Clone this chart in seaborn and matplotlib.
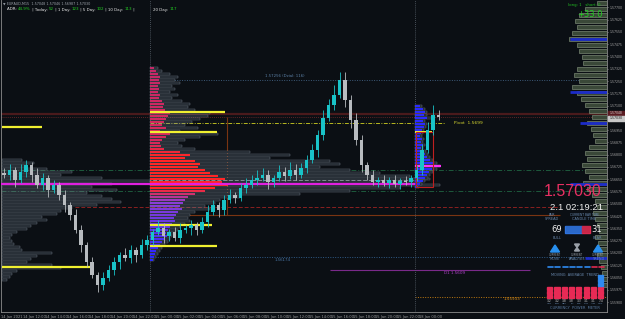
import numpy as np
import matplotlib
matplotlib.use("Agg")
import matplotlib.pyplot as plt
import seaborn as sns
from matplotlib.colors import LinearSegmentedColormap
from matplotlib.patches import Rectangle, Polygon

# ---------------- data ----------------
symbol_line = "\u25bc EURAUD,M15  1.57048 1.57046 1.56987 1.57030"
close = [1.56676, 1.56706, 1.56645, 1.56694, 1.56737, 1.56676, 1.56615, 1.56657, 1.56584, 1.56615,
         1.56553, 1.56492, 1.56431, 1.56340, 1.56248, 1.56144, 1.56065, 1.56004, 1.56046, 1.56095,
         1.56144, 1.56187, 1.56169, 1.56217, 1.56187, 1.56248, 1.56279, 1.56327, 1.56352, 1.56303,
         1.56327, 1.56291, 1.56340, 1.56352, 1.56370, 1.56340, 1.56388, 1.56450, 1.56492, 1.56462,
         1.56523, 1.56553, 1.56535, 1.56596, 1.56615, 1.56645, 1.56657, 1.56676, 1.56633, 1.56657,
         1.56694, 1.56670, 1.56706, 1.56676, 1.56718, 1.56767, 1.56828, 1.56920, 1.57024, 1.57103,
         1.57164, 1.57256, 1.57134, 1.57012, 1.56889, 1.56737, 1.56676, 1.56633, 1.56645, 1.56627,
         1.56645, 1.56621, 1.56639, 1.56633, 1.56657, 1.56706, 1.56828, 1.56951, 1.57042, 1.57030]
open_first = 1.56690
wick_up_pips = [3, 4, 2, 5, 3, 2, 4, 3, 2, 3,
                2, 3, 2, 4, 3, 2, 3, 2, 4, 3,
                3, 2, 4, 3, 2, 4, 3, 2, 5, 3,
                2, 3, 4, 2, 3, 2, 3, 4, 3, 2,
                3, 4, 2, 3, 4, 3, 5, 4, 3, 2,
                4, 3, 5, 4, 3, 3, 4, 3, 5, 4,
                6, 5, 5, 3, 4, 3, 2, 3, 2, 3,
                2, 3, 2, 3, 2, 3, 4, 5, 6, 3]
wick_dn_pips = [2, 3, 4, 2, 3, 4, 2, 3, 4, 2,
                3, 4, 3, 2, 4, 3, 2, 4, 3, 2,
                3, 4, 2, 3, 4, 2, 3, 3, 2, 4,
                3, 2, 3, 2, 4, 3, 2, 3, 2, 4,
                3, 2, 3, 2, 3, 2, 3, 2, 4, 3,
                2, 3, 2, 3, 2, 3, 2, 4, 3, 2,
                3, 2, 4, 5, 3, 4, 3, 2, 3, 2,
                3, 2, 3, 2, 3, 2, 3, 2, 3, 2]

time_labels = ["14 Jan 2021", "14 Jan 12:00", "14 Jan 14:00", "14 Jan 16:00", "14 Jan 18:00",
               "14 Jan 20:00", "14 Jan 22:00", "15 Jan 00:00", "15 Jan 02:00", "15 Jan 04:00",
               "15 Jan 06:00", "15 Jan 08:00", "15 Jan 10:00", "15 Jan 12:00", "15 Jan 14:00",
               "15 Jan 16:00", "15 Jan 18:00", "15 Jan 20:00", "15 Jan 22:00", "18 Jan 00:00"]
time_label_hours = [0, 2, 4, 6, 8, 10, 12, 14, 16, 18, 20, 22, 24, 26, 28, 30, 32, 34, 36, 38]

price_ticks = [1.57700, 1.57625, 1.57550, 1.57475, 1.57400, 1.57325, 1.57250, 1.57175, 1.57100,
               1.56950, 1.56875, 1.56800, 1.56725, 1.56650, 1.56575, 1.56500, 1.56425,
               1.56350, 1.56275, 1.56200, 1.56125, 1.56050, 1.55975, 1.55900]
current_price = 1.57030
prev_price = 1.57048

# session volume profiles (bar lengths, top bin first)
vp15_top = 1.57329
vp15_total = [8, 12, 20, 28, 25, 30, 22, 25, 20, 28, 22,
              32, 40, 38, 45, 60, 58, 50, 42, 35, 48, 30, 68, 50, 35, 28, 32, 45,
              100, 140, 120, 180, 190, 170, 200, 230, 260, 280, 270, 290, 250, 200, 150, 90,
              70, 65, 55, 60, 45, 40, 38, 40, 35, 30, 28, 25, 22, 20, 18, 15, 12, 10, 8, 6, 4]
vp15_value = [4, 6, 8, 10, 9, 10, 8, 9, 8, 10, 9,
              12, 14, 13, 15, 20, 18, 16, 14, 12, 16, 10, 20, 16, 12, 10, 11, 14,
              30, 40, 35, 45, 50, 48, 55, 60, 68, 75, 72, 78, 65, 55, 45, 38,
              35, 33, 30, 32, 28, 26, 24, 25, 22, 20, 18, 16, 17, 14, 12, 10, 8, 6, 5, 4, 3]
vp14_top = 1.56767
vp14_total = [20, 32, 25, 45, 70, 60, 100, 148, 110, 90, 115, 85, 100, 110, 120, 95, 70, 60, 55, 40,
              45, 35, 30, 25, 15, 10, 8, 10, 12, 18, 20, 50, 35, 30, 25, 50, 60, 15, 10, 8, 5]
vp18_top = 1.57097
vp18_value = [5, 8, 10, 9, 12, 8, 10, 9, 7, 6, 5, 7, 6, 8, 6, 9, 10, 12, 15, 18, 20, 17, 14, 12, 10, 8, 5, 3]
vp18_total = [7, 10, 12, 12, 18, 10, 12, 11, 9, 8, 7, 9, 8, 10, 8, 11, 13, 15, 18, 22, 25, 22, 18, 15, 13, 10, 7, 4]
vpr_top = 1.57727
vpr_total = [10, 22, 28, 32, 30, 35, 38, 30, 28, 25, 24, 30, 33, 28, 35, 30, 26, 22, 18, 15,
             20, 16, 14, 12, 18, 22, 20, 25, 22, 18, 24, 20, 15, 12, 10, 14, 12, 10, 8, 12,
             9, 7, 10, 8, 6, 5, 7, 5]
vpr_blue_levels = [1.57507, 1.57183, 1.56993, 1.56621, 1.56168]
vpr_blue_len = [37, 37, 27, 37, 22]

# key levels
lvl_dzial = 1.57256
lvl_pivot = 1.56993
lvl_green = [1.56706, 1.56578]
lvl_gray = 1.56645
lvl_poc = 1.56621
lvl_red = 1.56480
lvl_brown = 1.56431
lvl_blue = 1.56174
lvl_d1 = 1.56095
lvl_orange = 1.55933
va15_levels = [1.57061, 1.56938, 1.56370, 1.56242]
va15_len = [75, 67, 62, 67]
va14_levels = [1.56969, 1.56114]
va14_len = [40, 88]
box18 = (1.56938, 1.56602)
poc18 = 1.56731

adr_parts = [("ADR: ", 0), ("44.9%", 1), (" | Today: ", 0), ("52", 1), (" | 1 Day: ", 0), ("123", 1),
             (" | 5 Day: ", 0), ("102", 1), (" | 10 Day: ", 0), ("113", 1), (" |", 0)]
adr20_parts = [("20 Day: ", 0), ("117", 1)]
meter_values = ["3.2", "3.2", "3.8", "3.8", "3.3", "3.1", "3.1", "7.4"]
meter_ccy = ["USD", "EUR", "GBP", "JPY", "CHF", "CAD", "AUD", "NZD"]
meter_red = [3, 3, 3, 3, 3, 3, 3, 3]
meter_blue = [0, 0, 0, 0, 0, 0, 0, 3]
bull, bear = 69, 31

# ---------------- style ----------------
BG = "#0b0f14"
sns.set_theme(style="dark", rc={"axes.facecolor": BG, "figure.facecolor": BG,
                                "savefig.facecolor": BG})
plt.rcParams["font.family"] = ["DejaVu Sans"]

W, HT = 625, 319
fig = plt.figure(figsize=(W / 100, HT / 100), dpi=100)
ax = fig.add_axes([1.25 / W, 1 - 312 / HT, 605.75 / W, 312 / HT])
XMAX = 605.75 / 11
ax.set_xlim(0, XMAX)
ax.set_ylim(1.55839, 1.57745)
ax.grid(False)
ax.spines["top"].set_visible(False)
for s in ["left", "bottom", "right"]:
    ax.spines[s].set_color("#8c8c8c")
    ax.spines[s].set_linewidth(0.6)


def H(px):
    return (px - 1.25) / 11.0


STEP3 = 3 * 0.0000611

# ---------------- volume profiles ----------------
def gray_profile(x0, top, step, vals, z=3, hf=0.6):
    lv = top - step * np.arange(len(vals))
    ax.barh(lv, np.array(vals) / 11.0, left=x0, height=step * hf, facecolor="#151b22",
            edgecolor="#76828f", linewidth=0.3, zorder=z)
    return lv

# 14 Jan profile
gray_profile(H(1.5), vp14_top, STEP3, vp14_total)
# 15 Jan profile
lv15 = gray_profile(H(150), vp15_top, STEP3, vp15_total)
cmap = LinearSegmentedColormap.from_list("vp", [(0, "#c42868"), (0.40, "#d8285a"), (0.46, "#ff2626"),
                                                (0.63, "#ff2626"), (0.70, "#8c3ed6"), (1.0, "#2626ff")])
cols15 = [cmap(k / (len(vp15_value) - 1)) for k in range(len(vp15_value))]
ax.barh(lv15, np.array(vp15_value) / 11.0, left=H(150), height=STEP3 * 0.9, color=cols15,
        linewidth=0, zorder=4)
# 18 Jan profile
lv18 = gray_profile(H(415), vp18_top, STEP3, vp18_total)
ax.barh(lv18, np.array(vp18_value) / 11.0, left=H(415), height=STEP3 * 0.9, color="#2a2aff",
        linewidth=0, zorder=4)
# right-side range profile
lvr = vpr_top - 6 * 0.0000611 * np.arange(len(vpr_total))
ax.barh(lvr, np.array(vpr_total) / 11.0, left=XMAX - np.array(vpr_total) / 11.0,
        height=6 * 0.0000611 * 0.75, facecolor="#3a4838", edgecolor="#8d9c84", linewidth=0.4, zorder=3)
for lv, ln in zip(vpr_blue_levels, vpr_blue_len):
    ax.hlines(lv, XMAX - ln / 11.0, XMAX, color="#1c2cc8", lw=2.0, zorder=4)

# value-area / poc markers
for lv, ln in zip(va15_levels, va15_len):
    ax.hlines(lv, H(150), H(150 + ln), color="#f0f030", lw=1.6, zorder=5)
for lv, ln in zip(va14_levels, va14_len):
    ax.hlines(lv, H(1.5), H(1.5 + ln), color="#f0f030", lw=1.6, zorder=5)
ax.hlines(box18[0], H(415), H(432), color="#f0f030", lw=1.4, zorder=5)
ax.hlines(poc18, H(415), H(441), color="#ff30ff", lw=1.6, zorder=5)
ax.add_patch(Rectangle((H(416), box18[1]), H(433) - H(416), box18[0] - box18[1], fill=False,
                       edgecolor="#c02020", lw=0.8, zorder=5))

# ---------------- key levels ----------------
ax.hlines(lvl_dzial, H(150), XMAX, color="#3d5a78", lw=0.7, ls=(0, (1, 1.5)), zorder=2)
ax.text(H(285), lvl_dzial + 0.00012, "1.57256 (Dzial: 116)", color="#5b80a6", fontsize=2.8,
        ha="center", va="bottom", zorder=8)
ax.hlines(prev_price, 0, XMAX, color="#4a1a1c", lw=1.6, zorder=2)
ax.hlines(current_price, 0, XMAX, color="#7a2a2a", lw=0.6, ls=(0, (1, 1.5)), zorder=2)
ax.hlines(lvl_pivot, H(150), H(445), color="#b8b820", lw=0.7, ls=(0, (4, 1.5, 1, 1.5)), zorder=2)
ax.text(H(454), lvl_pivot, "Pivot  1.5699", color="#d8d830", fontsize=3.2, va="center", zorder=8)
for lv in lvl_green:
    ax.hlines(lv, 0, XMAX, color="#1d5a3c", lw=0.7, ls=(0, (5, 2, 1, 2)), zorder=2)
ax.hlines(lvl_gray, 0, H(415), color="#8a939c", lw=0.7, ls=(0, (4, 2)), zorder=2)
ax.hlines(lvl_poc, 0, H(415), color="#e020e0", lw=1.6, zorder=5)
ax.hlines(lvl_red, H(75), H(560), color="#8a2020", lw=0.7, ls=(0, (4, 2)), zorder=2)
ax.hlines(lvl_brown, H(150), H(560), color="#7a3412", lw=0.8, zorder=2)
ax.vlines(H(227), lvl_brown, current_price, color="#7a3412", lw=0.8, zorder=2)
ax.hlines(lvl_blue, H(150), XMAX, color="#2f5a86", lw=0.7, ls=(0, (1, 1.5)), zorder=2)
ax.text(H(283), lvl_blue - 0.00008, "1.56174", color="#4a78a8", fontsize=2.8, ha="center",
        va="top", zorder=8)
ax.hlines(lvl_d1, H(330), H(530), color="#7a2a8a", lw=0.8, zorder=2)
ax.text(H(455), lvl_d1 - 0.00006, "D1 1.5609", color="#b040c8", fontsize=3.0, ha="center",
        va="top", zorder=8)
ax.hlines(lvl_orange, H(415), XMAX, color="#c07a10", lw=0.7, ls=(0, (1, 1.5)), zorder=2)
ax.text(H(512), lvl_orange - 0.00005, "1.55933", color="#d88c18", fontsize=3.0, ha="center",
        va="top", zorder=8)
for xs in [150, 415]:
    ax.axvline(H(xs), color="#5c6670", lw=0.6, ls=(0, (1, 1.5)), zorder=2)

# ---------------- candles ----------------
c = np.array(close)
o = np.r_[open_first, c[:-1]]
t = 0.25 + 0.5 * np.arange(len(c))
hi = np.maximum(o, c) + np.array(wick_up_pips) * 1e-4
lo = np.minimum(o, c) - np.array(wick_dn_pips) * 1e-4
col = np.where(c >= o, "#19c3c8", "#b8bcc0")
ax.vlines(t, lo, hi, colors=col, lw=0.6, zorder=6)
ax.bar(t, np.maximum(np.abs(c - o), 0.00004), bottom=np.minimum(o, c), width=0.28, color=col,
       linewidth=0, zorder=7)

# ---------------- axes ticks ----------------
ax.set_xticks(time_label_hours)
ax.set_xticklabels(time_labels, ha="left")
ax.yaxis.tick_right()
ax.set_yticks(price_ticks)
ax.set_yticklabels([f"{p:.5f}" for p in price_ticks])
ax.tick_params(axis="x", colors="#9a9a9a", labelsize=2.6, length=1.5, width=0.5, pad=1, direction="out")
ax.tick_params(axis="y", colors="#a8a8a8", labelsize=2.25, length=1, width=0.5, pad=0.6, direction="out")

# ---------------- overlay (pixel coords) ----------------
ov = fig.add_axes([0, 0, 1, 1], zorder=10)
ov.set_xlim(0, W)
ov.set_ylim(HT, 0)
ov.axis("off")
ov.patch.set_alpha(0)
renderer = fig.canvas.get_renderer()


def seq(x, y, parts, size, colors):
    for s, k in parts:
        tt = ov.text(x, y, s, color=colors[k], fontsize=size, va="center", ha="left")
        x += tt.get_window_extent(renderer).width
    return x


ov.text(3, 4, symbol_line, color="#9aa0a8", fontsize=2.4, va="center", ha="left")
seq(7, 9.5, adr_parts, 2.9, ["#e8e8e8", "#22d022"])
seq(153, 9.5, adr20_parts, 2.9, ["#e8e8e8", "#22d022"])
ov.text(600, 5, "long: 1   short: 0", color="#22c022", fontsize=2.8, ha="right", va="center")
ov.text(603, 14.5, "+33.0", color="#22d022", fontsize=6, ha="right", va="center")

# price labels on right axis
ov.add_patch(Rectangle((608, 110.5), 17, 5.2, color="#5a1c22", zorder=1))
ov.text(610, 113.1, f"{prev_price:.5f}", color="#d0d0d0", fontsize=2.25, va="center")
ov.add_patch(Rectangle((608, 115.7), 17, 5.2, color="#c8c8c8", zorder=1))
ov.text(610, 118.3, f"{current_price:.5f}", color="#101010", fontsize=2.25, va="center")

# info panel
ov.text(573, 192, f"{current_price:.5f}", color="#e83062", fontsize=11.5, ha="center", va="center",
        family=["Liberation Sans"])
ov.text(576, 207, "2.1 02:19:21", color="#f0f0f0", fontsize=6.8, ha="center", va="center",
        family=["Liberation Sans"])
ov.text(552, 214.5, "PAIR", color="#6a8ab0", fontsize=2.2, ha="center", va="center")
ov.text(552, 218.5, "SPREAD", color="#6a8ab0", fontsize=2.5, ha="center", va="center")
ov.text(584, 214.5, "CURRENT BAR TIME", color="#6a8ab0", fontsize=2.2, ha="center", va="center")
ov.text(584, 218.5, "CANDLE TIME", color="#6a8ab0", fontsize=2.5, ha="center", va="center")
ov.text(557, 229.5, str(bull), color="#f0f0f0", fontsize=6, ha="center", va="center")
ov.text(597, 229.5, str(bear), color="#f0f0f0", fontsize=6, ha="center", va="center")
bx0, bx1 = 565, 590
split = bx0 + (bx1 - bx0) * bull / (bull + bear)
ov.add_patch(Rectangle((bx0, 226), split - bx0, 7, color="#2f74e0"))
ov.add_patch(Rectangle((split, 226), bx1 - split, 7, color="#e02a50"))
for xx in np.arange(bx0 + 1.5, bx1, 2.0):
    ov.plot([xx, xx], [226, 233], color="#0b0f14", lw=0.3, alpha=0.5)
ov.text(557, 238, "BULL", color="#6a8ab0", fontsize=2.5, ha="center", va="center")
ov.text(597, 238, "BEAR", color="#6a8ab0", fontsize=2.5, ha="center", va="center")
for xc in [555, 598]:
    ov.add_patch(Polygon([[xc - 4.5, 252], [xc + 4.5, 252], [xc, 245]], color="#2890f0"))
# hourglass icon (drawn as a shape)
ov.add_patch(Polygon([[574.5, 244], [579.5, 244], [577, 247.5]], color="#9aa0a8"))
ov.add_patch(Polygon([[574.5, 251], [579.5, 251], [577, 247.5]], color="#9aa0a8"))
for xc, lab in [(555, "MOVE"), (577, "ANALYSIS"), (598, "TREND")]:
    ov.text(xc, 255.5, "CURRENT", color="#9aa0a8", fontsize=1.8, ha="center", va="center")
    ov.text(xc, 259.5, lab, color="#6a8ab0", fontsize=2.5, ha="center", va="center")
for j in range(8):
    xx = 548 + 7.3 * j
    ov.plot([xx, xx + 5], [266.5, 266.5], color="#2f8af0" if j < 6 else "#e02a50", lw=1.2)
ov.text(575, 275, "MOVING  AVERAGE  TREND", color="#6a8ab0", fontsize=2.5, ha="center", va="center")
for j in range(8):
    xx = 547 + 7.3 * j
    for r in range(meter_red[j]):
        ov.add_patch(Rectangle((xx, 295 - 4 * r), 5.2, 2.6, color="#e82a55"))
    for b in range(meter_blue[j]):
        ov.add_patch(Rectangle((xx, 283 - 4 * b), 5.2, 2.6, color="#2f8af0"))
    ov.text(xx + 2.6, 300.5, meter_values[j], color="#c8c8c8", fontsize=2.2, ha="center", va="center")
    ov.text(xx + 2.6, 303.5, meter_ccy[j], color="#6a8ab0", fontsize=1.7, ha="center", va="center")
ov.text(575, 308, "CURRENCY  POWER  METER", color="#5a7aa0", fontsize=2.6, ha="center", va="center")

fig.savefig("out.png", dpi=100, facecolor=BG)
